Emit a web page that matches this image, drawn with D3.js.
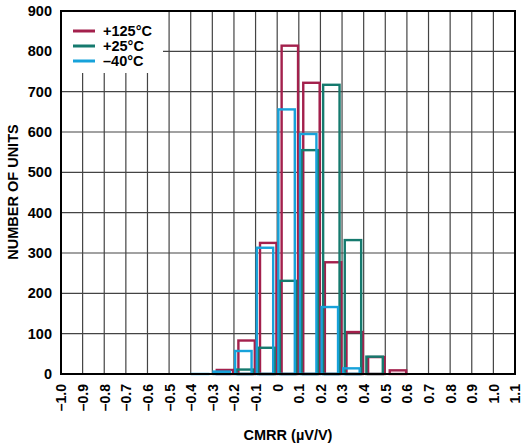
<!DOCTYPE html>
<html><head><meta charset="utf-8">
<script src="https://cdn.jsdelivr.net/npm/d3@7"></script>
<style>body{margin:0;background:#fff}svg{display:block}text{font-family:Arial,"Liberation Sans",sans-serif;font-weight:bold;fill:#000}</style>
</head><body><svg id="c" width="525" height="446"></svg>
<script>
const bins = [-0.4,-0.3,-0.2,-0.1,0,0.1,0.2,0.3,0.4,0.5];
const red125 = [0,13,86,328,817,725,280,107,45,12];
const green25 = [0,0,14,68,234,558,720,335,46,0];
const blueM40 = [3,9,60,316,659,598,169,17,0,0];
const seriesNames = ["+125°C","+25°C","–40°C"];
const seriesColors = ["#a3204c","#157a6e","#17a2da"];
const xTicks = [-1.0,-0.9,-0.8,-0.7,-0.6,-0.5,-0.4,-0.3,-0.2,-0.1,0,0.1,0.2,0.3,0.4,0.5,0.6,0.7,0.8,0.9,1.0,1.1];
const yTicks = [0,100,200,300,400,500,600,700,800,900];

const svg = d3.select("#c");
const L=61,R=515,T=11,B=374;
const x = d3.scaleLinear().domain([-1.0,1.1]).range([L,R]);
const y = d3.scaleLinear().domain([0,900]).range([B,T]);

// grid
const g = svg.append("g");
g.selectAll(".vg").data(xTicks).join("line").attr("x1",d=>x(d)).attr("x2",d=>x(d)).attr("y1",T).attr("y2",B).attr("stroke","#444").attr("stroke-width",1.2);
g.selectAll(".hg").data(yTicks).join("line").attr("y1",d=>y(d)).attr("y2",d=>y(d)).attr("x1",L).attr("x2",R).attr("stroke","#444").attr("stroke-width",1.2);

// legend background
svg.append("rect").attr("x",L+1).attr("y",T+1).attr("width",101).attr("height",61).attr("fill","#fff");

// bars
const seriesData = [red125, green25, blueM40];
const offsets = [0.015, 0.007, 0.0];
const bw = 0.087;
const order = [0,1,2];
order.forEach(si=>{
  const data = bins.map((b,i)=>({b, v:seriesData[si][i]})).filter(d=>d.v>0);
  svg.append("g").selectAll("rect").data(data).join("rect")
    .attr("x",d=>x(d.b+offsets[si])+1.2)
    .attr("width",d=>x(d.b+offsets[si]+bw)-x(d.b+offsets[si])-2.4)
    .attr("y",d=>y(d.v)+1.2)
    .attr("height",d=>Math.max(0,y(0)-y(d.v)-1.2))
    .attr("fill","none").attr("stroke",seriesColors[si]).attr("stroke-width",2.4);
});

// frame
svg.append("rect").attr("x",L).attr("y",T).attr("width",R-L).attr("height",B-T).attr("fill","none").attr("stroke","#000").attr("stroke-width",2);

// axes labels
const yAxis = d3.axisLeft(y).tickValues(yTicks).tickSize(0).tickPadding(9).tickFormat(d3.format("d"));
const ya = svg.append("g").attr("transform",`translate(${L},0)`).call(yAxis);
ya.select(".domain").remove();
ya.selectAll("text").style("font-size","14.5px").style("font-family","Arial, 'Liberation Sans', sans-serif").style("font-weight","bold");

const fmtX = d => d===0 ? "0" : (d<0?"–":"") + Math.abs(d).toFixed(1);
const xa = svg.append("g").attr("transform",`translate(0,${B})`).call(d3.axisBottom(x).tickValues(xTicks).tickSize(0).tickFormat(fmtX));
xa.select(".domain").remove();
xa.selectAll("text").attr("transform","rotate(-90)").attr("text-anchor","end").attr("x",-10).attr("y",0).attr("dy","0.35em")
  .style("font-size","14px").style("font-family","Arial, 'Liberation Sans', sans-serif").style("font-weight","bold");

// legend
const lg = svg.append("g");
seriesNames.forEach((n,i)=>{
  const yy = 31 + i*15;
  lg.append("line").attr("x1",73).attr("x2",95).attr("y1",yy).attr("y2",yy).attr("stroke",seriesColors[i]).attr("stroke-width",3);
  lg.append("text").attr("x",103).attr("y",yy+5).style("font-size","14.5px").text(n);
});

// titles
svg.append("text").attr("transform","translate(18,192) rotate(-90)").attr("text-anchor","middle").style("font-size","14.5px").text("NUMBER OF UNITS");
svg.append("text").attr("x",288).attr("y",440).attr("text-anchor","middle").style("font-size","14.5px").text("CMRR (µV/V)");
</script></body></html>
